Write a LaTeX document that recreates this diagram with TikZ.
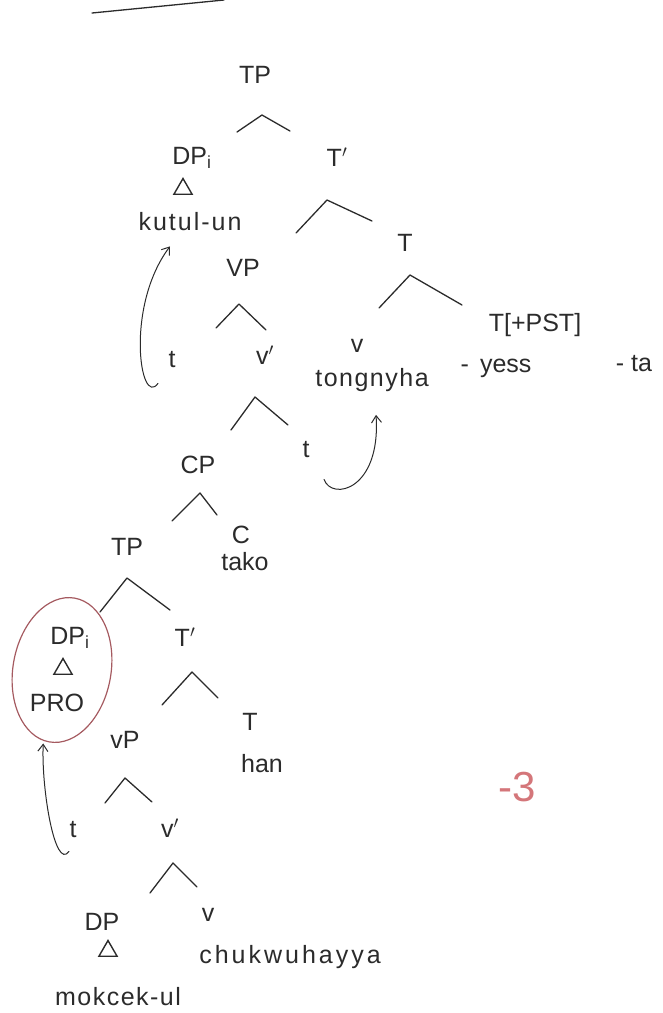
\documentclass[tikz,border=0pt]{standalone}
\usepackage{fontspec}
\setmainfont{Liberation Sans}
\usetikzlibrary{arrows.meta,shapes.geometric}
\definecolor{ink}{HTML}{2B2B2B}
\definecolor{redink}{HTML}{A55A60}
\definecolor{pinkink}{HTML}{D4767A}
\begin{document}
\begin{tikzpicture}[x=1pt,y=-1pt,
  lbl/.style={font=\fontsize{25}{27}\selectfont, text=ink, inner sep=1pt},
  wide/.style={lbl, font=\fontsize{25}{27}\selectfont\addfontfeature{LetterSpace=#1}},
  br/.style={draw=ink, line width=1.3pt, line join=round, line cap=round},
  tri/.style={draw=ink, line width=1.4pt, regular polygon, regular polygon sides=3, minimum size=21pt, inner sep=0pt},
  mv/.style={draw=ink, line width=1pt, line cap=round, -{Straight Barb[length=7pt,width=10pt]}}]
\useasboundingbox (0,0) rectangle (663,1013);
% stroke at top edge
\coordinate (top1) at (92,13);
\coordinate (top2) at (224,0);
\draw[br] (top1) -- (top2);
% upper tree
\node[lbl] (TP1) at (255,75) {TP};
\node[lbl] (DP1) at (192,158) {DP\textsubscript{i}};
\node[tri] (tri1) at (183,189) {};
\node[wide=8] (kutul) at (190,222) {kutul-un};
\node[lbl] (Tbar1) at (337,157) {T$'$};
\node[lbl] (T1) at (405,243) {T};
\node[lbl] (vP1) at (243,268) {VP};
\node[lbl] (t1) at (172,360) {t};
\node[lbl] (vbar1) at (265,355) {v$'$};
\node[lbl] (v1) at (357,346) {v};
\node[wide=6] (tong) at (372,380) {tongnyha};
\node[lbl] (yess) at (496,368) {-\, yess};
\node[lbl] (tpst) at (535,325) {T[+PST]};
\node[lbl] (ta) at (634,364) {- ta};
\node[lbl] (t2) at (306,450) {t};
\node[lbl] (CP) at (198,465) {CP};
\node[lbl] (C) at (241,535) {C};
\node[lbl] (tako) at (245,562) {tako};
% lower tree
\node[lbl] (TP2) at (127,547) {TP};
\node[draw=redink, line width=1.2pt, ellipse, minimum width=98pt, minimum height=146pt, rotate=-10] (ring) at (62,670) {};
\node[lbl] (DP2) at (70,638) {DP\textsubscript{i}};
\node[tri] (tri2) at (63,669) {};
\node[lbl] (PRO) at (57,703) {PRO};
\node[lbl] (Tbar2) at (185,637) {T$'$};
\node[lbl] (T2) at (250,722) {T};
\node[lbl] (han) at (262,764) {han};
\node[lbl] (vP2) at (125,740) {vP};
\node[lbl] (t3) at (73,830) {t};
\node[lbl] (vbar2) at (170,828) {v$'$};
\node[lbl] (DP3) at (102,922) {DP};
\node[lbl] (V) at (208,915) {v};
\node[tri] (tri3) at (108,951) {};
\node[wide=6] (mok) at (118,997) {mokcek-ul};
\node[wide=12] (chuk) at (290,957) {chukwuhayya};
\node[font=\fontsize{42}{44}\selectfont, text=pinkink, inner sep=0pt] (m3) at (517,787) {-3};
% branches
\coordinate (b1l) at (237,132); \coordinate (b1p) at (262,115); \coordinate (b1r) at (290,131);
\coordinate (b2l) at (296,233); \coordinate (b2p) at (327,200); \coordinate (b2r) at (372,221);
\coordinate (b3l) at (379,308); \coordinate (b3p) at (410,275); \coordinate (b3r) at (462,305);
\coordinate (b4l) at (216,328); \coordinate (b4p) at (239,304); \coordinate (b4r) at (266,330);
\coordinate (b5l) at (231,430); \coordinate (b5p) at (255,397); \coordinate (b5r) at (288,425);
\coordinate (b6l) at (172,521); \coordinate (b6p) at (200,493); \coordinate (b6r) at (217,515);
\coordinate (b7l) at (100,612); \coordinate (b7p) at (127,578); \coordinate (b7r) at (170,610);
\coordinate (b8l) at (162,705); \coordinate (b8p) at (192,672); \coordinate (b8r) at (218,698);
\coordinate (b9l) at (105,803); \coordinate (b9p) at (125,778); \coordinate (b9r) at (152,802);
\coordinate (b10l) at (150,893); \coordinate (b10p) at (173,863); \coordinate (b10r) at (197,887);
\foreach \b in {b1,b2,b3,b4,b5,b6,b7,b8,b9,b10}
  \draw[br] (\b l) -- (\b p) -- (\b r);
% movement arrows
\draw[mv] ([shift={(-14,14)}]t1.south) .. controls +(-18,25) and +(-45,60) .. ([shift={(-20,14)}]kutul.south);
\draw[mv] ([shift={(18,20)}]t2.south) .. controls +(8,22) and +(5,75) .. ([shift={(4,22)}]tong.south);
\draw[mv] ([shift={(-4,12)}]t3.south) .. controls +(-14,20) and +(-2,45) .. ([shift={(-6,1)}]ring.south);
\end{tikzpicture}
\end{document}
